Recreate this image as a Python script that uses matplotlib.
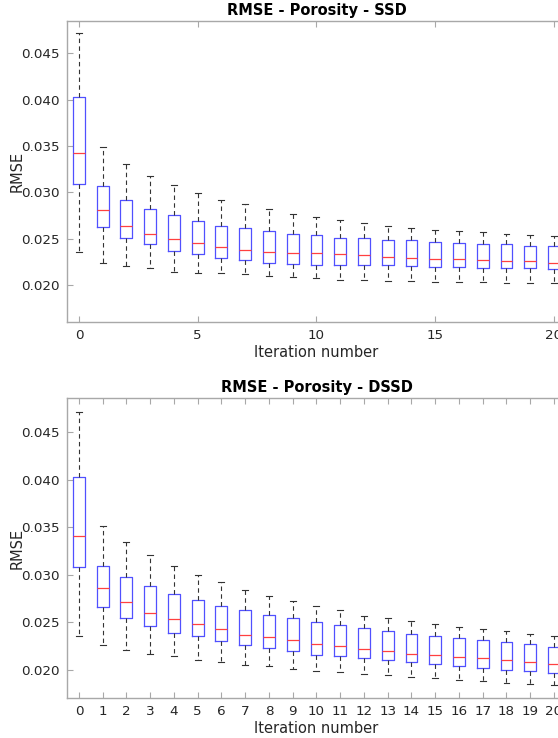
import matplotlib
matplotlib.use("Agg")
import matplotlib.pyplot as plt
import numpy as np

iterations = list(range(21))

# SSD: lower whisker, q1, median, q3, upper whisker
ssd_low = [0.0236, 0.0224, 0.0220, 0.0218, 0.0214, 0.0213, 0.0213, 0.0212, 0.0210, 0.0209, 0.0207,
           0.0205, 0.0205, 0.0204, 0.0204, 0.0203, 0.0203, 0.0203, 0.0202, 0.0202, 0.0202]
ssd_q1 = [0.0309, 0.0263, 0.0251, 0.0244, 0.0237, 0.0233, 0.0229, 0.0227, 0.0224, 0.0223, 0.0222,
          0.0222, 0.0221, 0.0221, 0.0220, 0.0219, 0.0219, 0.0218, 0.0218, 0.0218, 0.0217]
ssd_med = [0.0342, 0.0281, 0.0264, 0.0255, 0.0250, 0.0245, 0.0241, 0.0238, 0.0236, 0.0235, 0.0234,
           0.0233, 0.0232, 0.0230, 0.0229, 0.0228, 0.0228, 0.0227, 0.0226, 0.0226, 0.0224]
ssd_q3 = [0.0403, 0.0307, 0.0292, 0.0282, 0.0275, 0.0269, 0.0264, 0.0261, 0.0258, 0.0255, 0.0254,
          0.0251, 0.0251, 0.0249, 0.0248, 0.0246, 0.0245, 0.0244, 0.0244, 0.0242, 0.0242]
ssd_high = [0.0472, 0.0349, 0.0331, 0.0318, 0.0308, 0.0299, 0.0292, 0.0287, 0.0282, 0.0277, 0.0273,
            0.0270, 0.0267, 0.0264, 0.0261, 0.0259, 0.0258, 0.0257, 0.0255, 0.0254, 0.0253]

# DSSD
dssd_low = [0.0236, 0.0226, 0.0221, 0.0217, 0.0214, 0.0210, 0.0208, 0.0205, 0.0204, 0.0201, 0.0199,
            0.0198, 0.0196, 0.0194, 0.0192, 0.0191, 0.0189, 0.0188, 0.0186, 0.0185, 0.0184]
dssd_q1 = [0.0308, 0.0266, 0.0254, 0.0246, 0.0239, 0.0235, 0.0230, 0.0226, 0.0223, 0.0220, 0.0216,
           0.0214, 0.0212, 0.0210, 0.0208, 0.0206, 0.0204, 0.0202, 0.0200, 0.0199, 0.0197]
dssd_med = [0.0341, 0.0286, 0.0271, 0.0260, 0.0253, 0.0248, 0.0243, 0.0237, 0.0234, 0.0231, 0.0227,
            0.0225, 0.0222, 0.0220, 0.0217, 0.0215, 0.0213, 0.0212, 0.0210, 0.0208, 0.0206]
dssd_q3 = [0.0403, 0.0309, 0.0297, 0.0288, 0.0280, 0.0273, 0.0267, 0.0263, 0.0258, 0.0254, 0.0250,
           0.0247, 0.0244, 0.0241, 0.0238, 0.0236, 0.0233, 0.0231, 0.0229, 0.0227, 0.0224]
dssd_high = [0.0471, 0.0351, 0.0334, 0.0321, 0.0309, 0.0300, 0.0292, 0.0284, 0.0278, 0.0272, 0.0267,
             0.0263, 0.0257, 0.0254, 0.0251, 0.0248, 0.0245, 0.0243, 0.0241, 0.0238, 0.0235]

titles = ["RMSE - Porosity - SSD", "RMSE - Porosity - DSSD"]
yticks = [0.020, 0.025, 0.030, 0.035, 0.040, 0.045]

plt.rcParams["font.family"] = "DejaVu Sans"

fig = plt.figure(figsize=(5.58, 7.38), dpi=100)
ax1 = fig.add_axes([0.1201, 0.5637, 0.894, 0.4079])
ax2 = fig.add_axes([0.1201, 0.0538, 0.894, 0.4073])

def draw(ax, low, q1, med, q3, high, title, ylim, xticks):
    stats = []
    for i in range(len(iterations)):
        stats.append(dict(whislo=low[i], q1=q1[i], med=med[i], q3=q3[i], whishi=high[i], fliers=[]))
    ax.bxp(stats, positions=iterations, widths=0.5, capwidths=0.25, showfliers=False,
           manage_ticks=False,
           boxprops=dict(color="#5050ff", linewidth=0.9),
           medianprops=dict(color="#ff4040", linewidth=0.9),
           whiskerprops=dict(color="#333333", linewidth=0.8, linestyle=(0, (4, 3))),
           capprops=dict(color="#333333", linewidth=0.8))
    ax.set_xlim(-0.5, 20.5)
    ax.set_ylim(*ylim)
    ax.set_xticks(xticks)
    ax.set_yticks(yticks)
    ax.set_yticklabels([f"{v:.3f}" for v in yticks])
    for s in ax.spines.values():
        s.set_color("#a8a8a8")
        s.set_linewidth(1.0)
    ax.tick_params(direction="in", length=4, width=0.8, color="#a8a8a8", labelcolor="#262626",
                   labelsize=9.7, top=True, right=True, pad=5)
    ax.set_title(title, fontsize=10.5, fontweight="bold", pad=4)
    ax.set_xlabel("Iteration number", fontsize=10.5, color="#262626", labelpad=2)
    ax.set_ylabel("RMSE", fontsize=10.5, color="#262626", labelpad=-2)

draw(ax1, ssd_low, ssd_q1, ssd_med, ssd_q3, ssd_high, titles[0], (0.016, 0.0485), [0, 5, 10, 15, 20])
draw(ax2, dssd_low, dssd_q1, dssd_med, dssd_q3, dssd_high, titles[1], (0.017, 0.0486), iterations)

fig.savefig("out.png", dpi=100)
